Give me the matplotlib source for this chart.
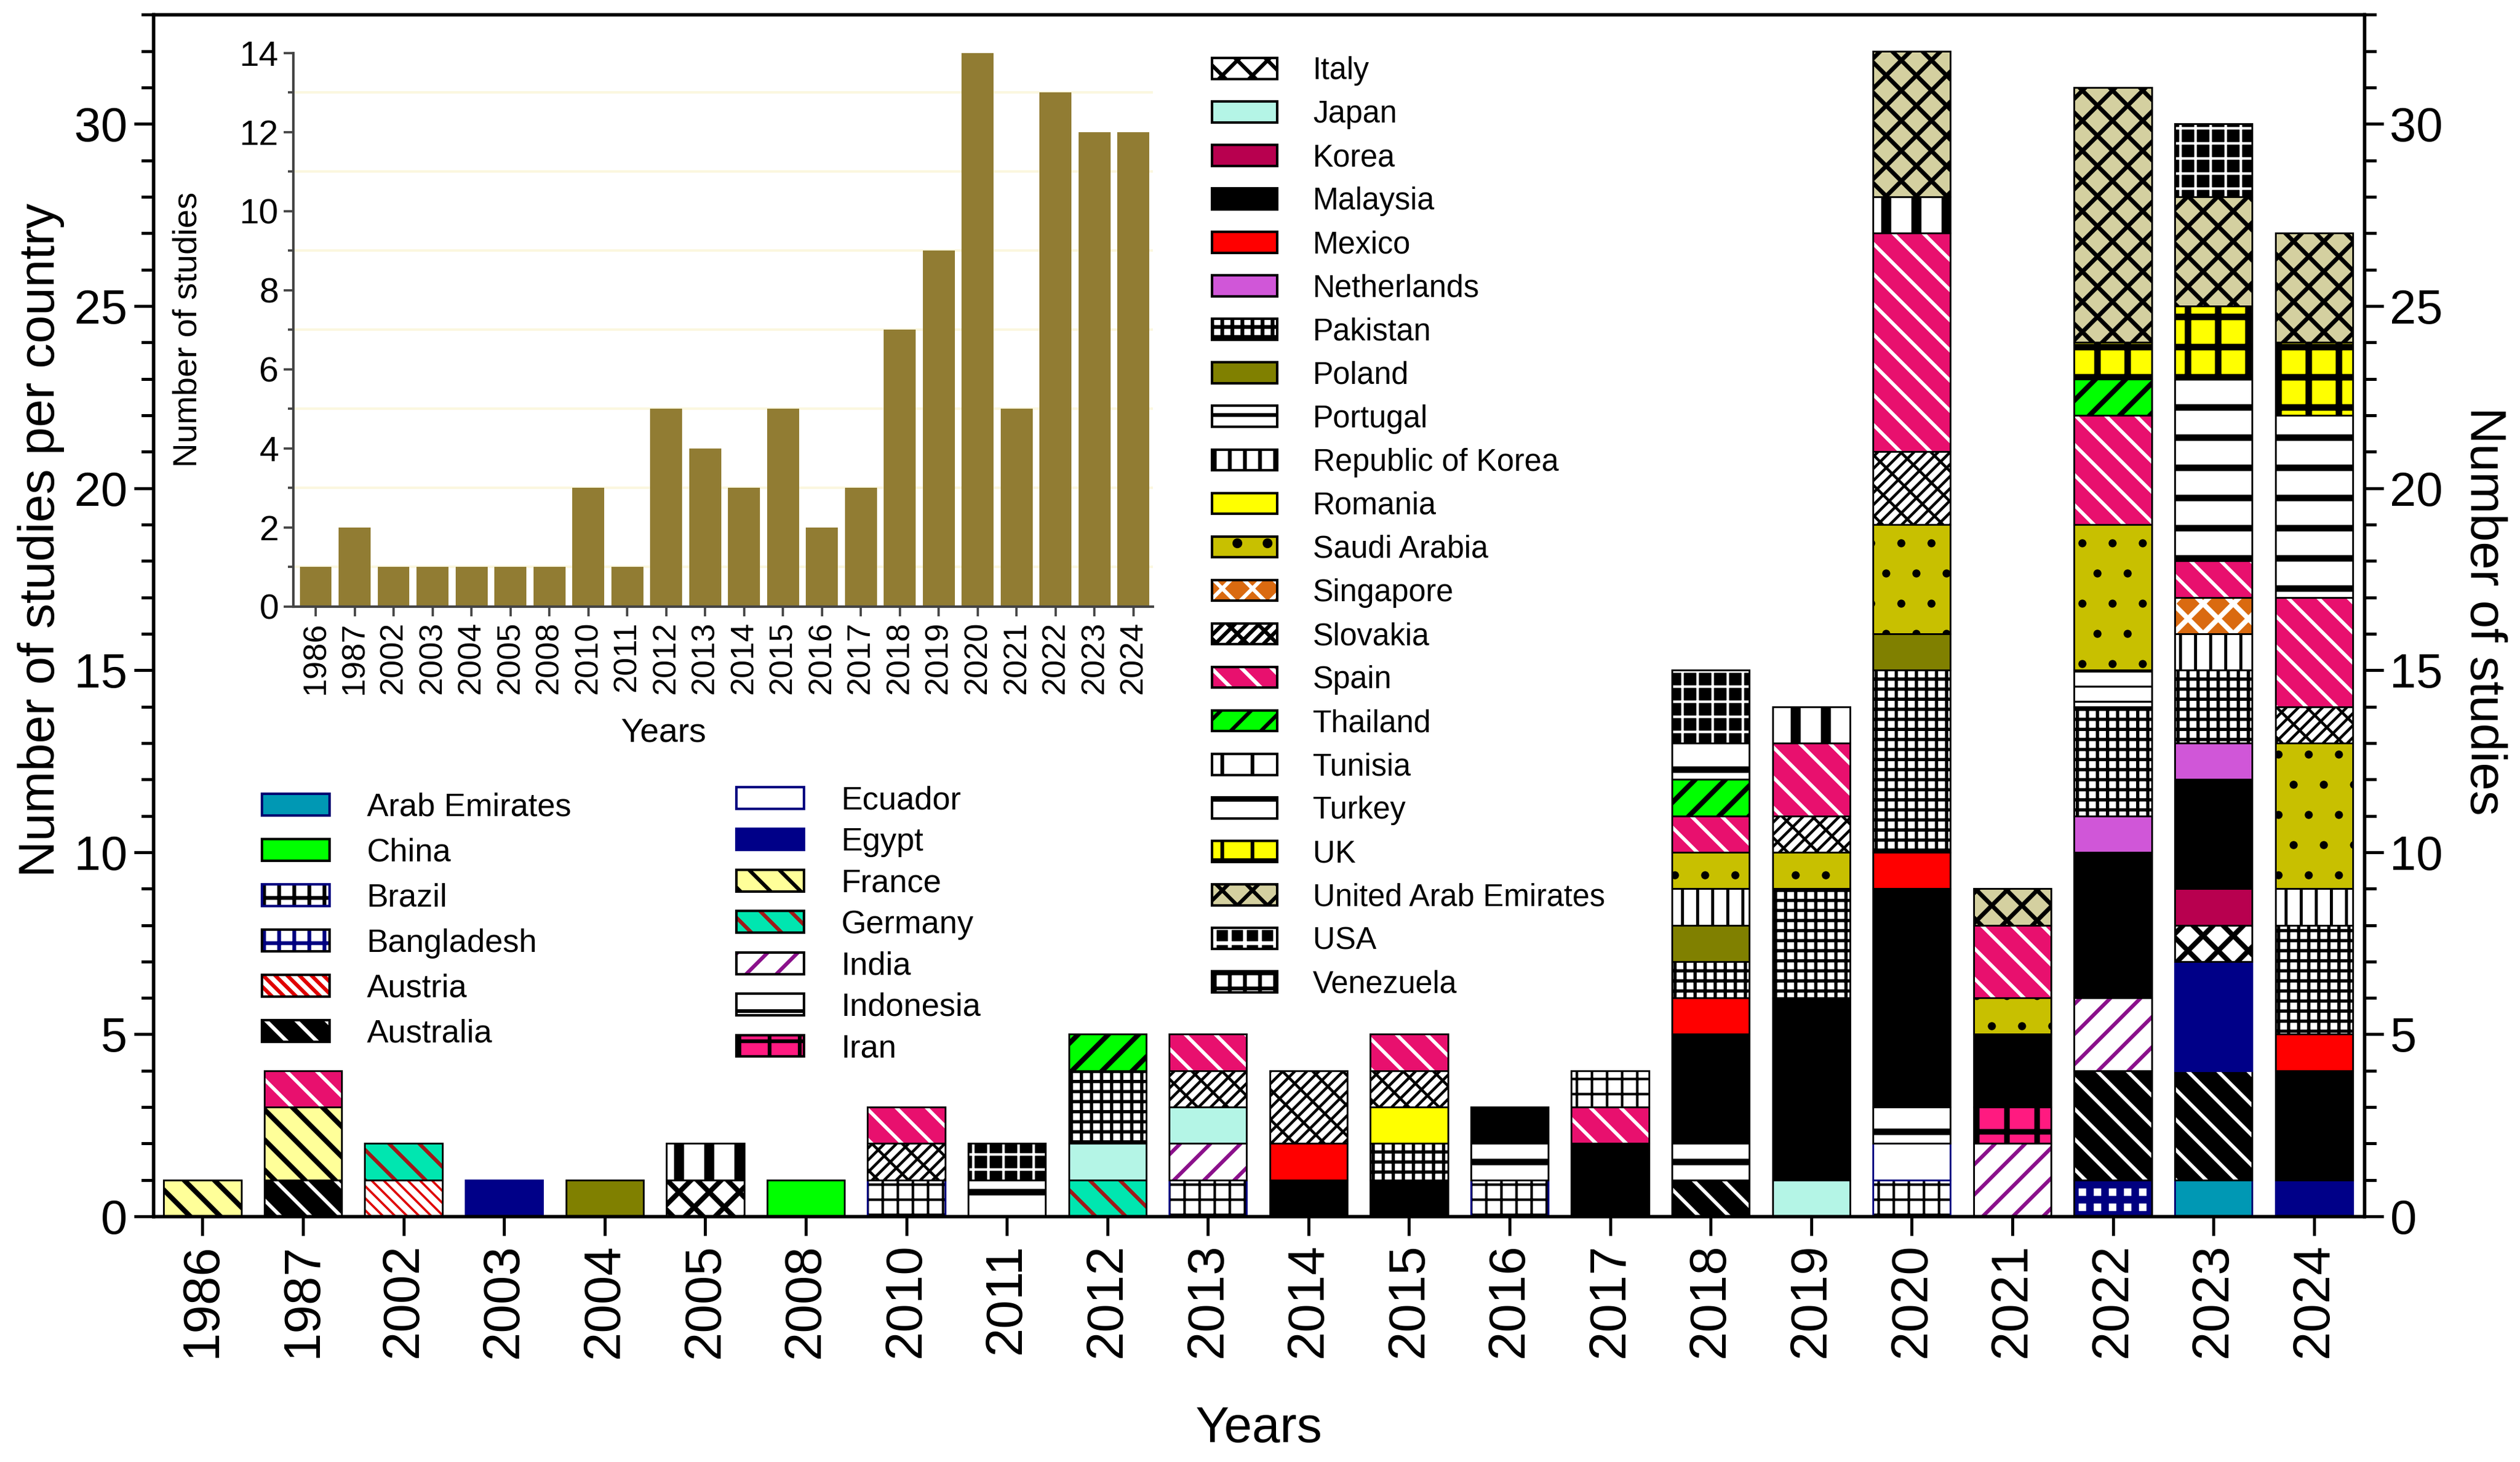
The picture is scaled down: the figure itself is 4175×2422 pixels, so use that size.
import numpy as np
import matplotlib
matplotlib.use("Agg")
import matplotlib.pyplot as plt
from matplotlib.patches import Patch
from matplotlib.legend_handler import HandlerTuple
from matplotlib.ticker import MultipleLocator

plt.rcParams['font.family'] = ['Liberation Sans', 'DejaVu Sans']
plt.rcParams['hatch.linewidth'] = 1.5

# ---- data -------------------------------------------------------------
years = ['1986', '1987', '2002', '2003', '2004', '2005', '2008', '2010', '2011', '2012', '2013',
         '2014', '2015', '2016', '2017', '2018', '2019', '2020', '2021', '2022', '2023', '2024']

# inset: number of studies per year
studies_per_year = [1, 2, 1, 1, 1, 1, 1, 3, 1, 5, 4, 3, 5, 2, 3, 7, 9, 14, 5, 13, 12, 12]

# studies per country and year (same order as years)
arab_emirates        = [0, 0, 0, 0, 0, 0, 0, 0, 0, 0, 0, 0, 0, 0, 0, 0, 0, 0, 0, 0, 1, 0]
china                = [0, 0, 0, 0, 0, 0, 1, 0, 0, 0, 0, 0, 0, 0, 0, 0, 0, 0, 0, 0, 0, 0]
brazil               = [0, 0, 0, 0, 0, 0, 0, 1, 0, 0, 1, 0, 0, 1, 0, 0, 0, 1, 0, 0, 0, 0]
bangladesh           = [0, 0, 0, 0, 0, 0, 0, 0, 0, 0, 0, 0, 0, 0, 0, 0, 0, 0, 0, 1, 0, 0]
austria              = [0, 0, 1, 0, 0, 0, 0, 0, 0, 0, 0, 0, 0, 0, 0, 0, 0, 0, 0, 0, 0, 0]
australia            = [0, 1, 0, 0, 0, 0, 0, 0, 0, 0, 0, 0, 0, 0, 0, 1, 0, 0, 0, 3, 3, 0]
ecuador              = [0, 0, 0, 0, 0, 0, 0, 0, 0, 0, 0, 0, 0, 0, 0, 0, 0, 1, 0, 0, 0, 0]
egypt                = [0, 0, 0, 1, 0, 0, 0, 0, 0, 0, 0, 0, 0, 0, 0, 0, 0, 0, 0, 0, 3, 1]
france               = [1, 2, 0, 0, 0, 0, 0, 0, 0, 0, 0, 0, 0, 0, 0, 0, 0, 0, 0, 0, 0, 0]
germany              = [0, 0, 1, 0, 0, 0, 0, 0, 0, 1, 0, 0, 0, 0, 0, 0, 0, 0, 0, 0, 0, 0]
india                = [0, 0, 0, 0, 0, 0, 0, 0, 0, 0, 1, 0, 0, 0, 0, 0, 0, 0, 2, 2, 0, 0]
indonesia            = [0, 0, 0, 0, 0, 0, 0, 0, 1, 0, 0, 0, 0, 1, 0, 1, 0, 1, 0, 0, 0, 0]
iran                 = [0, 0, 0, 0, 0, 0, 0, 0, 0, 0, 0, 0, 0, 0, 0, 0, 0, 0, 1, 0, 0, 0]
italy                = [0, 0, 0, 0, 0, 1, 0, 0, 0, 0, 0, 0, 0, 0, 0, 0, 0, 0, 0, 0, 1, 0]
japan                = [0, 0, 0, 0, 0, 0, 0, 0, 0, 1, 1, 0, 0, 0, 0, 0, 1, 0, 0, 0, 0, 0]
korea                = [0, 0, 0, 0, 0, 0, 0, 0, 0, 0, 0, 0, 0, 0, 0, 0, 0, 0, 0, 0, 1, 0]
malaysia             = [0, 0, 0, 0, 0, 0, 0, 0, 0, 0, 0, 1, 1, 1, 2, 3, 5, 6, 2, 4, 3, 3]
mexico               = [0, 0, 0, 0, 0, 0, 0, 0, 0, 0, 0, 1, 0, 0, 0, 1, 0, 1, 0, 0, 0, 1]
netherlands          = [0, 0, 0, 0, 0, 0, 0, 0, 0, 0, 0, 0, 0, 0, 0, 0, 0, 0, 0, 1, 1, 0]
pakistan             = [0, 0, 0, 0, 0, 0, 0, 0, 0, 2, 0, 0, 1, 0, 0, 1, 3, 5, 0, 3, 2, 3]
poland               = [0, 0, 0, 0, 1, 0, 0, 0, 0, 0, 0, 0, 0, 0, 0, 1, 0, 1, 0, 0, 0, 0]
portugal             = [0, 0, 0, 0, 0, 0, 0, 0, 0, 0, 0, 0, 0, 0, 0, 0, 0, 0, 0, 1, 0, 0]
republic_of_korea    = [0, 0, 0, 0, 0, 0, 0, 0, 0, 0, 0, 0, 0, 0, 0, 1, 0, 0, 0, 0, 1, 1]
romania              = [0, 0, 0, 0, 0, 0, 0, 0, 0, 0, 0, 0, 1, 0, 0, 0, 0, 0, 0, 0, 0, 0]
saudi_arabia         = [0, 0, 0, 0, 0, 0, 0, 0, 0, 0, 0, 0, 0, 0, 0, 1, 1, 3, 1, 4, 0, 4]
singapore            = [0, 0, 0, 0, 0, 0, 0, 0, 0, 0, 0, 0, 0, 0, 0, 0, 0, 0, 0, 0, 1, 0]
slovakia             = [0, 0, 0, 0, 0, 0, 0, 1, 0, 0, 1, 2, 1, 0, 0, 0, 1, 2, 0, 0, 0, 1]
spain                = [0, 1, 0, 0, 0, 0, 0, 1, 0, 0, 1, 0, 1, 0, 1, 1, 2, 6, 2, 3, 1, 3]
thailand             = [0, 0, 0, 0, 0, 0, 0, 0, 0, 1, 0, 0, 0, 0, 0, 1, 0, 0, 0, 1, 0, 0]
tunisia              = [0, 0, 0, 0, 0, 1, 0, 0, 0, 0, 0, 0, 0, 0, 0, 0, 1, 1, 0, 0, 0, 0]
turkey               = [0, 0, 0, 0, 0, 0, 0, 0, 0, 0, 0, 0, 0, 0, 0, 1, 0, 0, 0, 0, 5, 5]
uk                   = [0, 0, 0, 0, 0, 0, 0, 0, 0, 0, 0, 0, 0, 0, 0, 0, 0, 0, 0, 1, 2, 2]
united_arab_emirates = [0, 0, 0, 0, 0, 0, 0, 0, 0, 0, 0, 0, 0, 0, 0, 0, 0, 4, 1, 7, 3, 3]
usa                  = [0, 0, 0, 0, 0, 0, 0, 0, 1, 0, 0, 0, 0, 0, 0, 2, 0, 0, 0, 0, 2, 0]
venezuela            = [0, 0, 0, 0, 0, 0, 0, 0, 0, 0, 0, 0, 0, 0, 1, 0, 0, 0, 0, 0, 0, 0]

# stacking order (bottom to top) = legend order
country_names = ['Arab Emirates', 'China', 'Brazil', 'Bangladesh', 'Austria', 'Australia',
                 'Ecuador', 'Egypt', 'France', 'Germany', 'India', 'Indonesia', 'Iran',
                 'Italy', 'Japan', 'Korea', 'Malaysia', 'Mexico', 'Netherlands', 'Pakistan',
                 'Poland', 'Portugal', 'Republic of Korea', 'Romania', 'Saudi Arabia',
                 'Singapore', 'Slovakia', 'Spain', 'Thailand', 'Tunisia', 'Turkey', 'UK',
                 'United Arab Emirates', 'USA', 'Venezuela']
country_counts = [arab_emirates, china, brazil, bangladesh, austria, australia, ecuador,
                  egypt, france, germany, india, indonesia, iran, italy, japan, korea,
                  malaysia, mexico, netherlands, pakistan, poland, portugal,
                  republic_of_korea, romania, saudi_arabia, singapore, slovakia, spain,
                  thailand, tunisia, turkey, uk, united_arab_emirates, usa, venezuela]

# fill colour, hatch, hatch colour, outline colour, hatch line width
BS = '\\'
styles = {
    'Arab Emirates':        ('#0098b4', None, 'k', '#000070', 1.0),
    'China':                ('#00ff00', None, 'k', 'k', 1.0),
    'Brazil':               ('white', '++', 'k', '#000080', 1.0),
    'Bangladesh':           ('white', '++', '#000080', 'k', 3.0),
    'Austria':              ('white', BS * 5, '#e00000', 'k', 0.9),
    'Australia':            ('black', BS * 2, 'white', 'k', 1.4),
    'Ecuador':              ('white', None, 'k', '#000080', 1.0),
    'Egypt':                ('#000088', None, 'k', '#000088', 1.0),
    'France':               ('#ffff99', BS * 2, 'k', 'k', 2.0),
    'Germany':              ('#00e6b0', BS * 2, '#a01818', 'k', 1.5),
    'India':                ('white', '//', '#8b108b', 'k', 1.5),
    'Indonesia':            ('white', '-', 'k', 'k', 2.6),
    'Iran':                 ('#ff1a80', '+', 'k', 'k', 2.2),
    'Italy':                ('white', 'xx', 'k', 'k', 2.0),
    'Japan':                ('#b4f5e6', None, 'k', 'k', 1.0),
    'Korea':                ('#b8004f', None, 'k', 'k', 1.0),
    'Malaysia':             ('black', None, 'k', 'k', 1.0),
    'Mexico':               ('#ff0000', None, 'k', 'k', 1.0),
    'Netherlands':          ('#d056d8', None, 'k', 'k', 1.0),
    'Pakistan':             ('white', '+++', 'k', 'k', 1.3),
    'Poland':               ('#808000', None, 'k', 'k', 1.0),
    'Portugal':             ('white', '--', 'k', 'k', 0.8),
    'Republic of Korea':    ('white', '||', 'k', 'k', 1.2),
    'Romania':              ('#ffff00', None, 'k', 'k', 1.0),
    'Saudi Arabia':         ('#c8c000', '.', 'k', 'k', 0.8),
    'Singapore':            ('#da6a10', 'xx', 'white', 'k', 2.0),
    'Slovakia':             ('white', '/////' + BS * 2, 'k', 'k', 1.1),
    'Spain':                ('#e8106e', BS * 2, 'white', 'k', 1.4),
    'Thailand':             ('#00ff00', '//', 'k', 'k', 2.0),
    'Tunisia':              ('white', '|', 'k', 'k', 4.0),
    'Turkey':               ('white', '-', 'k', 'k', 2.6),
    'UK':                   ('#ffff00', '+', 'k', 'k', 2.6),
    'United Arab Emirates': ('#d4d0a0', 'xx', 'k', 'k', 1.7),
    'USA':                  ('black', '++', 'white', 'k', 1.0),
    'Venezuela':            ('white', '++', 'k', 'k', 1.0),
}


def set_hatch_lw(patches, lw):
    for p in patches:
        if hasattr(p, 'set_hatch_linewidth'):
            p.set_hatch_linewidth(lw)


# ---- figure -----------------------------------------------------------
fig = plt.figure(figsize=(4175 / 300, 2422 / 300), dpi=300)
ax = fig.add_axes([0.0608, 0.1680, 0.8774, 0.8219])

x = np.arange(len(years))
bar_w = 0.77
bottom = np.zeros(len(years))
for name, counts in zip(country_names, country_counts):
    face, hatch, hcol, edge, hlw = styles[name]
    counts = np.asarray(counts, dtype=float)
    m = counts > 0
    bars = ax.bar(x[m], counts[m], bar_w, bottom=bottom[m], color=face, edgecolor=hcol,
                  hatch=hatch, linewidth=0, zorder=2)
    set_hatch_lw(bars, hlw)
    ax.bar(x[m], counts[m], bar_w, bottom=bottom[m], facecolor='none', edgecolor=edge,
           linewidth=0.7, zorder=3)
    bottom += counts

ax.set_xlim(-0.49, 21.5)
ax.set_ylim(0, 33)
ax.set_xticks(x)
ax.set_xticklabels(years, rotation=90, fontsize=20.5)
ax.yaxis.set_major_locator(MultipleLocator(5))
ax.yaxis.set_minor_locator(MultipleLocator(1))
ax.tick_params(axis='both', which='major', direction='out', length=7.7, width=1.2, pad=3)
ax.tick_params(axis='y', which='major', labelsize=19, pad=2.5)
ax.tick_params(axis='y', which='minor', direction='out', length=4.8, width=1.2)
for s in ax.spines.values():
    s.set_linewidth(1.3)
ax.set_ylabel('Number of studies per country', fontsize=20)
ax.yaxis.set_label_coords(-0.040, 0.563)
ax.set_xlabel('Years', fontsize=20)
ax.xaxis.set_label_coords(0.5, -0.157)

ax2 = ax.twinx()
ax2.set_ylim(0, 33)
ax2.yaxis.set_major_locator(MultipleLocator(5))
ax2.yaxis.set_minor_locator(MultipleLocator(1))
ax2.tick_params(axis='y', which='major', direction='out', length=7.7, width=1.2,
                labelsize=19, pad=2.5)
ax2.tick_params(axis='y', which='minor', direction='out', length=4.8, width=1.2)
for s in ax2.spines.values():
    s.set_linewidth(1.3)
ax2.set_ylabel('Number of studies', fontsize=20, rotation=270, va='center')
ax2.yaxis.set_label_coords(1.054, 0.504)

# ---- legends ----------------------------------------------------------
def legend_handles(names):
    hs = []
    for name in names:
        face, hatch, hcol, edge, hlw = styles[name]
        fill = Patch(facecolor=face, edgecolor=hcol, hatch=hatch, linewidth=0)
        set_hatch_lw([fill], hlw)
        outline = Patch(facecolor='none', edgecolor=edge, linewidth=1.0)
        hs.append((fill, outline))
    return hs


def add_legend(names, anchor, fontsize, spacing):
    return fig.legend(legend_handles(names), names, loc='upper left', bbox_to_anchor=anchor,
                      bbox_transform=fig.transFigure, frameon=False, fontsize=fontsize,
                      borderpad=0, borderaxespad=0, handlelength=2.1, handleheight=0.66,
                      handletextpad=1.15, labelspacing=spacing,
                      handler_map={tuple: HandlerTuple(ndivide=1, pad=0)})


add_legend(country_names[:6], (0.1040, 0.4581), 12.8, 0.47)
add_legend(country_names[6:13], (0.2922, 0.4625), 12.8, 0.345)
add_legend(country_names[13:], (0.4810, 0.9615), 12.3, 0.45)

# ---- inset ------------------------------------------------------------
ax_in = fig.add_axes([0.1164, 0.5851, 0.3411, 0.3786], zorder=5)
ax_in.set_facecolor('none')
ax_in.bar(x, studies_per_year, 0.82, color='#917c33', zorder=2)
ax_in.set_xlim(-0.574, 21.5)
ax_in.set_ylim(0, 14)
ax_in.set_xticks(x)
ax_in.set_xticklabels(years, rotation=90, fontsize=13)
ax_in.yaxis.set_major_locator(MultipleLocator(2))
ax_in.yaxis.set_minor_locator(MultipleLocator(1))
ax_in.grid(which='minor', axis='y', color='#fbf7df', linewidth=1.0, zorder=0)
ax_in.tick_params(axis='both', which='major', direction='out', length=3.8, width=0.9,
                  color='#444444', pad=2)
ax_in.tick_params(axis='y', which='major', labelsize=14)
ax_in.tick_params(axis='y', which='minor', direction='out', length=2.2, width=0.9,
                  color='#444444')
for side in ('top', 'right'):
    ax_in.spines[side].set_visible(False)
for side in ('left', 'bottom'):
    ax_in.spines[side].set_color('#444444')
    ax_in.spines[side].set_linewidth(1.0)
ax_in.set_ylabel('Number of studies', fontsize=13.5)
ax_in.yaxis.set_label_coords(-0.104, 0.5)
ax_in.set_xlabel('Years', fontsize=13.5)
ax_in.xaxis.set_label_coords(0.431, -0.20)

fig.savefig('out.png', dpi=300)
